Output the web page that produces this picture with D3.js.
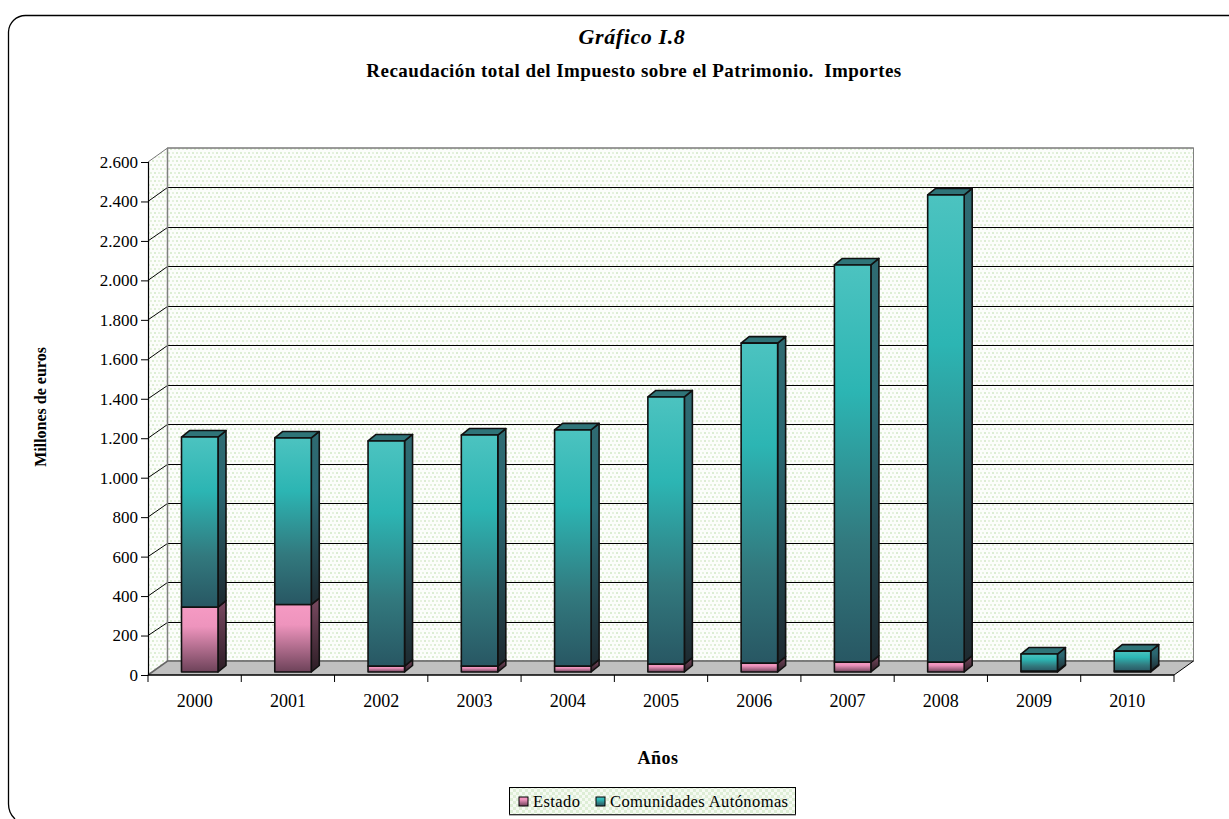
<!DOCTYPE html>
<meta charset="utf-8">
<style>
html, body { margin: 0; padding: 0; background: #fff; }
svg { display: block; font-family: "Liberation Serif", "Times New Roman", serif; fill: #000; }
.title { font-weight: bold; text-anchor: middle; }
.axis-title { font-weight: bold; text-anchor: middle; }
.legend-label { font-size: 16.5px; letter-spacing: 0.4px; }
.grid { stroke-width: 1; fill: none; }
.seg { stroke: #111; stroke-width: 1.6; stroke-linejoin: round; }
</style>
<svg width="1229" height="819"></svg>

<script src="https://d3js.org/d3.v7.min.js"></script>
<script>

var years = ["2000","2001","2002","2003","2004","2005","2006","2007","2008","2009","2010"];
var estado = [329, 342, 30, 30, 30, 40, 45, 50, 50, 5, 5];
var comunidades = [862, 844, 1141, 1171, 1197, 1354, 1622, 2013, 2368, 86, 101];
var seriesNames = ["Estado", "Comunidades Autónomas"];
var yTicks = [0,200,400,600,800,1000,1200,1400,1600,1800,2000,2200,2400,2600];

var svg = d3.select("svg");
var defs = svg.append("defs");
var serif = '"Liberation Serif", "Times New Roman", serif';

// plot frame
var x0 = 148, x1 = 1174, y0 = 675, y1 = 162;
var dx = 19.5, dy = 14;     // wall depth
var barDx = 8, barDy = 6.5; // bar depth
var lift = 3;               // bars sit a little behind the front edge

var x = d3.scaleBand().domain(years).range([x0, x1]);
var y = d3.scaleLinear().domain([0, 2600]).range([y0, y1]);
var barW = 36.5;

var esLocale = d3.formatLocale({decimal: ",", thousands: ".", grouping: [3], currency: ["", " €"]});

// dotted wall pattern
var pat = defs.append("pattern").attr("id", "dots").attr("patternUnits", "userSpaceOnUse")
    .attr("width", 8).attr("height", 8);
pat.append("rect").attr("width", 8).attr("height", 8).attr("fill", "#fcfdfb");
pat.append("rect").attr("width", 2).attr("height", 2).attr("fill", "#dcedd3");
pat.append("rect").attr("x", 4).attr("y", 0).attr("width", 2).attr("height", 2).attr("fill", "#e6f2df");
pat.append("rect").attr("x", 2).attr("y", 4).attr("width", 2).attr("height", 2).attr("fill", "#dcedd3");
pat.append("rect").attr("x", 6).attr("y", 4).attr("width", 2).attr("height", 2).attr("fill", "#e6f2df");

var pat2 = defs.append("pattern").attr("id", "legendFill").attr("patternUnits", "userSpaceOnUse")
    .attr("width", 6).attr("height", 6);
pat2.append("rect").attr("width", 6).attr("height", 6).attr("fill", "#f6faf3");
pat2.append("rect").attr("width", 3).attr("height", 3).attr("fill", "#deeed6");
pat2.append("rect").attr("x", 3).attr("y", 3).attr("width", 3).attr("height", 3).attr("fill", "#deeed6");

function gradient(id, stops) {
  var g = defs.append("linearGradient").attr("id", id)
      .attr("x1", 0).attr("y1", 0).attr("x2", 0).attr("y2", 1);
  stops.forEach(function(s) {
    g.append("stop").attr("offset", s[0]).attr("stop-color", s[1]);
  });
}
gradient("gPink", [[0, "#f59ac3"], [0.3, "#ee94bd"], [1, "#6d4259"]]);
gradient("gPinkSide", [[0, "#7a4a61"], [1, "#2c1d25"]]);
gradient("gTeal", [[0, "#4cc3c0"], [0.32, "#2cb5b3"], [0.7, "#32797e"], [1, "#285763"]]);
gradient("gTealSide", [[0, "#2f6b72"], [0.35, "#2b6670"], [1, "#1e2a30"]]);

// outer rounded box, cut by the bottom edge
svg.append("path")
    .attr("d", "M15,819 Q8.5,813 8.5,804 V32 A17,17 0 0 1 25.5,15.5 H1229")
    .attr("fill", "none").attr("stroke", "#000").attr("stroke-width", 1.3);

// titles
svg.append("text").attr("class", "title").attr("x", 632).attr("y", 44)
    .style("font-style", "italic").style("font-size", "22px").style("letter-spacing", "0.6px")
    .text("Gráfico I.8");
svg.append("text").attr("class", "title").attr("x", 634).attr("y", 77)
    .style("font-size", "19px").style("letter-spacing", "0.45px")
    .style("white-space", "pre")
    .text("Recaudación total del Impuesto sobre el Patrimonio.  Importes");

// walls
var wallTop = y1 - dy, wallBottom = y0 - dy;
svg.append("path")
    .attr("d", ["M", x0, y0, "L", x0 + dx, wallBottom, "V", wallTop, "L", x0, y1, "Z"].join(" "))
    .attr("fill", "url(#dots)");
svg.append("rect")
    .attr("x", x0 + dx).attr("y", wallTop).attr("width", x1 - x0).attr("height", wallBottom - wallTop)
    .attr("fill", "url(#dots)").attr("stroke", "#808080").attr("stroke-width", 1);

// gridlines
var wallY = d3.scaleLinear().domain([0, 2600]).range([wallBottom, wallTop]);
yTicks.slice(1, -1).forEach(function(t) {
  svg.append("path").attr("class", "grid").attr("stroke", "#000")
      .attr("d", ["M", x0, y(t), "L", x0 + dx, Math.round(wallY(t)) + 0.5, "H", x1 + dx].join(" "));
});
svg.append("path").attr("class", "grid").attr("stroke", "#777").attr("stroke-width", 1.6)
    .attr("d", ["M", x0, y1, "L", x0 + dx, wallTop, "H", x1 + dx].join(" "));
svg.append("line").attr("x1", x0 + dx).attr("x2", x0 + dx).attr("y1", wallTop).attr("y2", wallBottom)
    .attr("stroke", "#808080").attr("stroke-width", 1.5);

// floor
svg.append("path")
    .attr("d", ["M", x0, y0, "L", x0 + dx, wallBottom, "H", x1 + dx, "L", x1, y0, "Z"].join(" "))
    .attr("fill", "#c0c0c0");
svg.append("path").attr("fill", "none").attr("stroke", "#666").attr("stroke-width", 1.6)
    .attr("d", ["M", x0, y0, "L", x0 + dx, wallBottom, "H", x1 + dx].join(" "));
svg.append("path").attr("fill", "none").attr("stroke", "#000")
    .attr("d", ["M", x1, y0, "L", x1 + dx, wallBottom].join(" "));

// bars
function cube(g, bx, top, bottom, front, side, topFill) {
  g.append("path").attr("class", "seg").attr("fill", "url(#" + side + ")")
      .attr("d", ["M", bx + barW, top, "l", barDx, -barDy, "V", bottom - barDy, "l", -barDx, barDy, "Z"].join(" "));
  if (topFill) {
    g.append("path").attr("class", "seg").attr("fill", topFill)
        .attr("d", ["M", bx, top, "l", barDx, -barDy, "h", barW, "l", -barDx, barDy, "Z"].join(" "));
  }
  g.append("rect").attr("class", "seg").attr("fill", "url(#" + front + ")")
      .attr("x", bx).attr("y", top).attr("width", barW).attr("height", Math.max(bottom - top, 0.5));
}

var bars = svg.append("g").selectAll("g").data(years).enter().append("g");
bars.each(function(d, i) {
  var g = d3.select(this);
  var bx = x(d) + 33.5;
  var base = y(0) - lift;
  var yE = y(estado[i]) - lift;
  var yT = y(estado[i] + comunidades[i]) - lift;
  cube(g, bx, yE, base, "gPink", "gPinkSide", null);
  cube(g, bx, yT, yE, "gTeal", "gTealSide", "#2f7478");
});

// axes
var yAxis = d3.axisLeft(y).tickValues(yTicks).tickSize(7).tickPadding(3)
    .tickFormat(esLocale.format(",d"));
var xAxis = d3.axisBottom(x).tickSize(0).tickPadding(18);

var yg = svg.append("g").attr("transform", "translate(" + x0 + ",0)").call(yAxis);
yg.attr("font-family", serif);
yg.select(".domain").attr("stroke-width", 1.2).attr("d", "M0.5," + y1 + "V" + y0);
yg.selectAll("text").attr("fill", "#000").style("font-size", "17px");
yg.selectAll("line").attr("stroke", "#000");

var xg = svg.append("g").attr("transform", "translate(0," + y0 + ")").call(xAxis);
xg.attr("font-family", serif);
xg.select(".domain").attr("stroke-width", 1.4).attr("d", "M" + x0 + ",0H" + x1);
xg.selectAll("text").attr("fill", "#000").style("font-size", "18px").attr("dy", "0.8em");
xg.append("g").selectAll("line").data(years.concat(["end"])).enter().append("line")
    .attr("x1", function(d, i) { return x0 + i * x.step(); })
    .attr("x2", function(d, i) { return x0 + i * x.step(); })
    .attr("y1", 0).attr("y2", 7).attr("stroke", "#000");

// axis titles
svg.append("text").attr("class", "axis-title")
    .attr("transform", "translate(46,407) rotate(-90)")
    .style("font-size", "16px").text("Millones de euros");
svg.append("text").attr("class", "axis-title").attr("x", 658).attr("y", 764)
    .style("font-size", "18px").style("letter-spacing", "0.5px").text("Años");

// legend
var legend = svg.append("g");
legend.append("rect").attr("x", 509.5).attr("y", 787.5).attr("width", 286).attr("height", 27)
    .attr("fill", "url(#legendFill)").attr("stroke", "#000");
legend.append("line").attr("x1", 509).attr("x2", 796).attr("y1", 815).attr("y2", 815).attr("stroke", "#666");
var legendX = [519, 596];
var legendFront = ["gPink", "gTeal"];
seriesNames.forEach(function(name, i) {
  legend.append("rect").attr("x", legendX[i]).attr("y", 797).attr("width", 9).attr("height", 9)
      .attr("fill", "url(#" + legendFront[i] + ")").attr("stroke", "#000").attr("stroke-width", 1);
  legend.append("text").attr("class", "legend-label")
      .attr("x", legendX[i] + 14).attr("y", 807).text(name);
});

</script>
